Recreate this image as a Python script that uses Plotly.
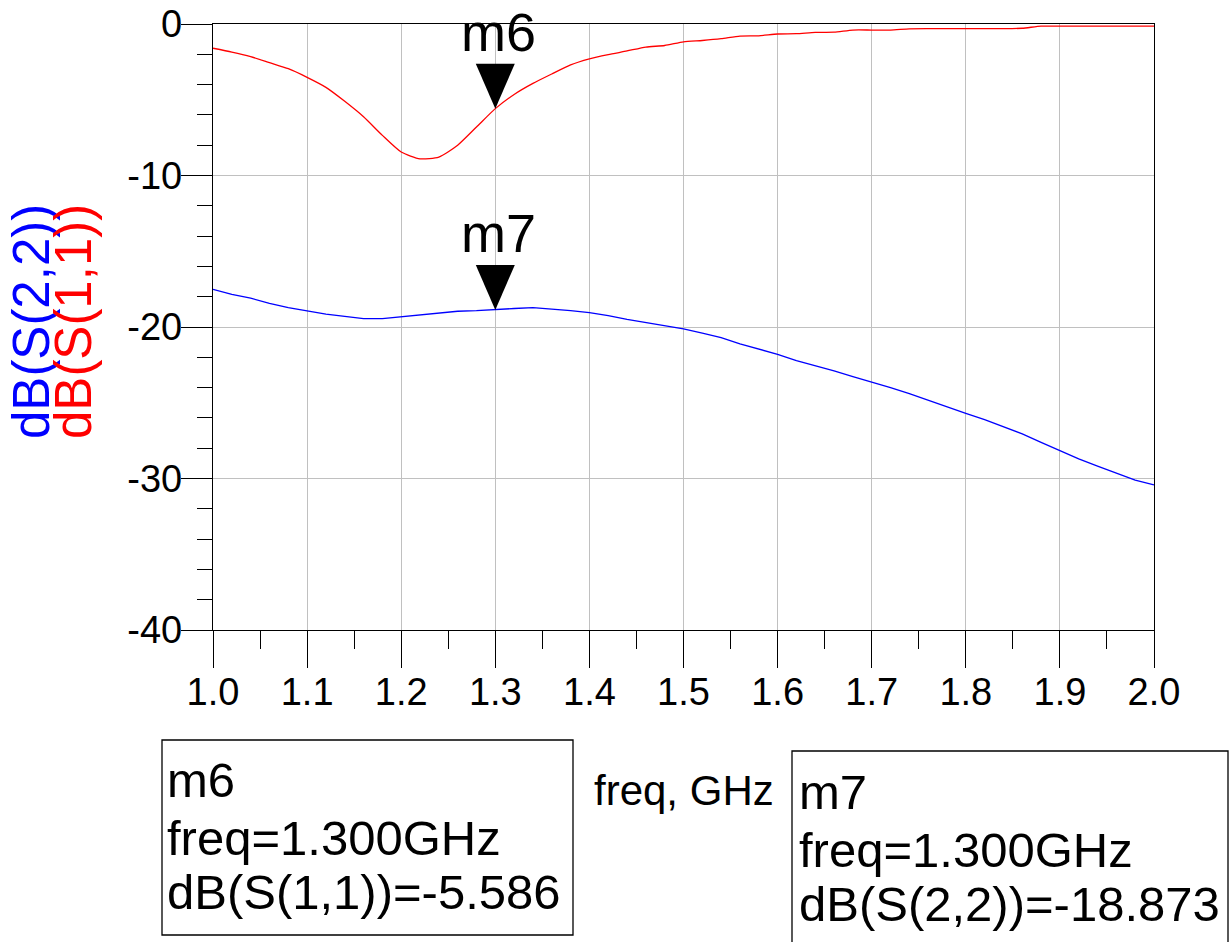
import plotly.graph_objects as go

# Frequency sweep (GHz) and measured return losses (dB)
freq_ghz = [1.00, 1.02, 1.04, 1.06, 1.08, 1.10, 1.12, 1.14, 1.16, 1.18,
            1.20, 1.22, 1.24, 1.26, 1.28, 1.30, 1.32, 1.34, 1.36, 1.38,
            1.40, 1.42, 1.44, 1.46, 1.48, 1.50, 1.52, 1.54, 1.56, 1.58,
            1.60, 1.62, 1.64, 1.66, 1.68, 1.70, 1.72, 1.74, 1.76, 1.78,
            1.80, 1.82, 1.84, 1.86, 1.88, 1.90, 1.92, 1.94, 1.96, 1.98,
            2.00]

s11_db = [-1.60, -1.85, -2.15, -2.55, -2.95, -3.52, -4.18, -5.10, -6.12, -7.35,
          -8.45, -8.90, -8.78, -8.00, -6.80, -5.586, -4.65, -3.92, -3.30, -2.70,
          -2.30, -2.02, -1.78, -1.52, -1.42, -1.18, -1.09, -0.97, -0.80, -0.78,
          -0.66, -0.64, -0.55, -0.54, -0.40, -0.40, -0.40, -0.32, -0.31, -0.31,
          -0.31, -0.31, -0.31, -0.28, -0.14, -0.14, -0.14, -0.14, -0.14, -0.14,
          -0.14]

s22_db = [-17.51, -17.85, -18.10, -18.44, -18.72, -18.95, -19.15, -19.30, -19.45, -19.45,
          -19.32, -19.20, -19.05, -18.96, -18.92, -18.873, -18.78, -18.72, -18.81, -18.92,
          -19.05, -19.25, -19.50, -19.72, -19.92, -20.12, -20.40, -20.70, -21.12, -21.45,
          -21.80, -22.22, -22.55, -22.90, -23.28, -23.62, -24.00, -24.40, -24.85, -25.30,
          -25.70, -26.12, -26.60, -27.05, -27.62, -28.18, -28.70, -29.18, -29.62, -30.10,
          -30.42]

x_ticks = [1.0, 1.1, 1.2, 1.3, 1.4, 1.5, 1.6, 1.7, 1.8, 1.9, 2.0]
x_tick_text = ["1.0", "1.1", "1.2", "1.3", "1.4", "1.5", "1.6", "1.7", "1.8", "1.9", "2.0"]
y_ticks = [-40, -30, -20, -10, 0]
y_tick_text = ["-40", "-30", "-20", "-10", "0"]

# Marker readouts
marker_names = ["m6", "m7"]
marker_freq = [1.300, 1.300]
marker_value = [-5.586, -18.873]
marker_trace = ["dB(S(1,1))", "dB(S(2,2))"]

FONT = "Liberation Sans, Arial, sans-serif"
W, H = 1231, 942
L, R, T, B = 213, 77, 24, 312
PW, PH = W - L - R, H - T - B


def px(x):
    return (x - L) / PW


def py(y):
    return (H - B - y) / PH


fig = go.Figure()
fig.add_trace(go.Scatter(x=freq_ghz, y=s11_db, mode="lines",
                         line=dict(color="rgb(255,0,0)", width=1.3, shape="spline", smoothing=0.6),
                         showlegend=False, hoverinfo="skip"))
fig.add_trace(go.Scatter(x=freq_ghz, y=s22_db, mode="lines",
                         line=dict(color="rgb(0,0,255)", width=1.3),
                         showlegend=False, hoverinfo="skip"))

shapes = []
annotations = []

# Marker triangles with tips on the traces, labels above
for name, f, v in zip(marker_names, marker_freq, marker_value):
    shapes.append(dict(type="path", xref="x", yref="y",
                       xsizemode="pixel", ysizemode="pixel",
                       xanchor=f, yanchor=v,
                       path="M -19.5 45 L 19.5 45 L 0 0 Z",
                       fillcolor="black", line=dict(width=0), layer="above"))
    annotations.append(dict(x=f, y=v, xref="x", yref="y", text=name,
                            showarrow=False, xanchor="center", yanchor="middle",
                            xshift=3, yshift=77,
                            font=dict(family=FONT, size=54, color="black")))

# Marker readout boxes
boxes = [
    dict(x0=162, x1=573, y0=740, y1=935, tx=165, lines=[780, 838, 892]),
    dict(x0=792, x1=1228, y0=751, y1=960, tx=797, lines=[792, 850, 904]),
]
for box, name, f, v, tr in zip(boxes, marker_names, marker_freq, marker_value, marker_trace):
    shapes.append(dict(type="rect", xref="paper", yref="paper",
                       x0=px(box["x0"]), x1=px(box["x1"]),
                       y0=py(box["y1"]), y1=py(box["y0"]),
                       line=dict(color="black", width=1.3),
                       fillcolor="rgba(0,0,0,0)", layer="above"))
    texts = [name, f"freq={f:.3f}GHz", f"{tr}={v:.3f}"]
    for t, yc in zip(texts, box["lines"]):
        annotations.append(dict(x=px(box["tx"]), y=py(yc), xref="paper", yref="paper",
                                text=t, showarrow=False, xanchor="left", yanchor="middle",
                                font=dict(family=FONT, size=49, color="black")))

# X axis caption
annotations.append(dict(x=px(684), y=py(790), xref="paper", yref="paper",
                        text="freq, GHz", showarrow=False,
                        xanchor="center", yanchor="middle",
                        font=dict(family=FONT, size=42, color="black")))

# Y axis captions (rotated), one per trace colour
annotations.append(dict(x=px(31), y=py(322), xref="paper", yref="paper",
                        text="dB(S(2,2))", textangle=-90, showarrow=False,
                        xanchor="center", yanchor="middle",
                        font=dict(family=FONT, size=51, color="rgb(0,0,255)")))
annotations.append(dict(x=px(73), y=py(322), xref="paper", yref="paper",
                        text="dB(S(1,1))", textangle=-90, showarrow=False,
                        xanchor="center", yanchor="middle",
                        font=dict(family=FONT, size=51, color="rgb(255,0,0)")))

fig.update_layout(
    width=W, height=H,
    margin=dict(l=L, r=R, t=T, b=B, autoexpand=False),
    paper_bgcolor="white", plot_bgcolor="white",
    font=dict(family=FONT, color="black"),
    shapes=shapes, annotations=annotations,
)

fig.update_xaxes(
    range=[1.0, 2.0], tickvals=x_ticks, ticktext=x_tick_text,
    automargin=False,
    showgrid=True, gridcolor="#c0c0c0", gridwidth=1.3,
    showline=True, linecolor="black", linewidth=1.3, mirror=True,
    ticks="outside", ticklen=37, tickwidth=1.2, tickcolor="black",
    ticklabelstandoff=-9,
    tickfont=dict(family=FONT, size=38, color="black"),
    minor=dict(dtick=0.05, tick0=1.0, ticks="outside", ticklen=18,
               tickwidth=1.2, tickcolor="black", showgrid=False),
    zeroline=False,
)
fig.update_yaxes(
    range=[-40, 0], tickvals=y_ticks, ticktext=y_tick_text,
    automargin=False,
    showgrid=True, gridcolor="#c0c0c0", gridwidth=1.3,
    showline=True, linecolor="black", linewidth=1.3, mirror=True,
    ticks="outside", ticklen=31, tickwidth=1.2, tickcolor="black",
    ticklabelstandoff=-9,
    tickfont=dict(family=FONT, size=38, color="black"),
    minor=dict(dtick=2, tick0=0, ticks="outside", ticklen=15,
               tickwidth=1.2, tickcolor="black", showgrid=False),
    zeroline=False,
)

fig.write_html("out.html")
